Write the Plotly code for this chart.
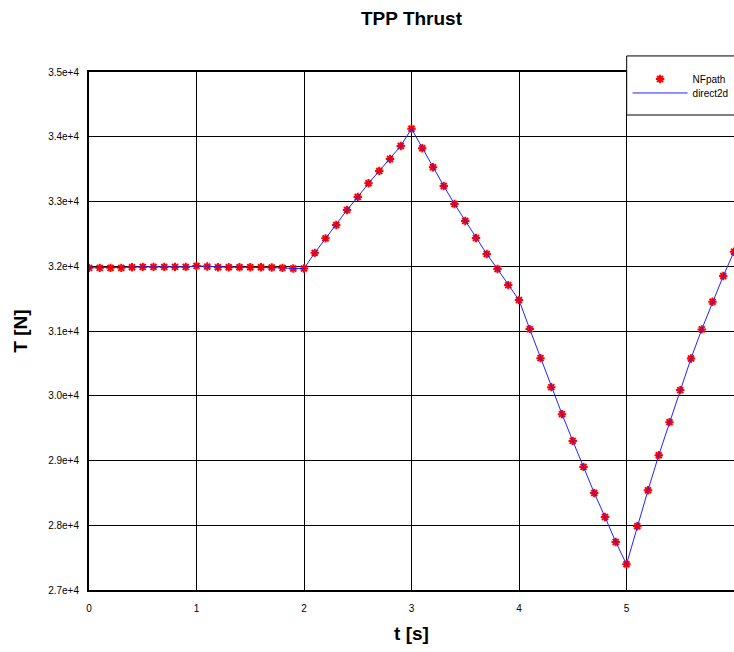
import plotly.graph_objects as go

# Time samples [s]
t = [0.0, 0.1, 0.2, 0.3, 0.4, 0.5, 0.6, 0.7, 0.8, 0.9,
     1.0, 1.1, 1.2, 1.3, 1.4, 1.5, 1.6, 1.7, 1.8, 1.9,
     2.0, 2.1, 2.2, 2.3, 2.4, 2.5, 2.6, 2.7, 2.8, 2.9,
     3.0, 3.1, 3.2, 3.3, 3.4, 3.5, 3.6, 3.7, 3.8, 3.9,
     4.0, 4.1, 4.2, 4.3, 4.4, 4.5, 4.6, 4.7, 4.8, 4.9,
     5.0, 5.1, 5.2, 5.3, 5.4, 5.5, 5.6, 5.7, 5.8, 5.9,
     6.0]

# Thrust from the NFpath solver [N]
nfpath_T = [31975, 31975, 31975, 31975, 31985, 31990, 31990, 31990, 31990, 31990,
            32005, 31995, 31985, 31985, 31985, 31985, 31985, 31980, 31975, 31965,
            31965, 32207, 32431, 32637, 32869, 33070, 33281, 33471, 33657, 33858,
            34125, 33822, 33528, 33240, 32961, 32699, 32436, 32189, 31957, 31709,
            31478, 31029, 30581, 30133, 29716, 29303, 28901, 28499, 28128, 27742,
            27397, 27985, 28541, 29082, 29592, 30087, 30576, 31025, 31451, 31849,
            32224]

# Thrust from the direct2d solver [N]
direct2d_T = [31975, 31975, 31975, 31975, 31985, 31990, 31990, 31990, 31990, 31990,
              32005, 31995, 31985, 31985, 31985, 31985, 31985, 31980, 31975, 31965,
              31965, 32207, 32431, 32637, 32869, 33070, 33281, 33471, 33657, 33858,
              34125, 33822, 33528, 33240, 32961, 32699, 32436, 32189, 31957, 31709,
              31478, 31029, 30581, 30133, 29716, 29303, 28901, 28499, 28128, 27742,
              27397, 27985, 28541, 29082, 29592, 30087, 30576, 31025, 31451, 31849,
              32224]

x_ticks = [0, 1, 2, 3, 4, 5, 6]
y_ticks = [27000, 28000, 29000, 30000, 31000, 32000, 33000, 34000, 35000]
y_tick_labels = ["2.7e+4", "2.8e+4", "2.9e+4", "3.0e+4", "3.1e+4",
                 "3.2e+4", "3.3e+4", "3.4e+4", "3.5e+4"]

FONT = "Arial, Liberation Sans, sans-serif"

fig = go.Figure()
fig.add_trace(go.Scatter(
    x=t, y=nfpath_T, name="NFpath", mode="markers", legend="legend",
    marker=dict(symbol="asterisk-open", size=7, color="#ff0000",
                line=dict(color="#ff0000", width=2)),
))
fig.add_trace(go.Scatter(
    x=t, y=direct2d_T, name="direct2d", mode="lines", legend="legend2",
    line=dict(color="#2222ff", width=1),
))

axis_common = dict(
    showgrid=True, gridcolor="black", gridwidth=1,
    showline=True, linecolor="black", linewidth=2,
    ticks="", zeroline=False,
    tickfont=dict(family=FONT, size=10, color="black"),
)
title_font = dict(family=FONT, size=19, color="black", weight="bold")

# one compact legend entry per series, stacked tightly inside a framed box
legend_common = dict(xanchor="left", yanchor="middle",
                     bgcolor="rgba(0,0,0,0)", borderwidth=0, itemwidth=55,
                     font=dict(family=FONT, size=10, color="black"))

fig.update_layout(
    width=734, height=652,
    margin=dict(l=89, r=0, t=72, b=62),
    paper_bgcolor="white", plot_bgcolor="white",
    title=dict(text="TPP Thrust", x=0.5, xref="paper",
               y=1 - 18.5 / 652, yref="container", yanchor="middle",
               font=title_font),
    xaxis=dict(range=[0, 6], tickvals=x_ticks, ticklabelstandoff=8, mirror=True,
               title=dict(text="t [s]", standoff=14, font=title_font),
               **axis_common),
    yaxis=dict(range=[27000, 35000], tickvals=y_ticks, ticktext=y_tick_labels,
               ticklabelstandoff=6, mirror=False,
               title=dict(text="T [N]", standoff=15, font=title_font),
               **axis_common),
    legend=dict(x=0.835, y=0.9865, **legend_common),
    legend2=dict(x=0.835, y=0.9595, **legend_common),
    showlegend=True,
    shapes=[dict(type="rect", xref="paper", yref="paper",
                 x0=0.8336, x1=1.05, y0=0.917, y1=1.031,
                 fillcolor="white", line=dict(color="black", width=1),
                 layer="above")],
)

fig.write_html("out.html")
